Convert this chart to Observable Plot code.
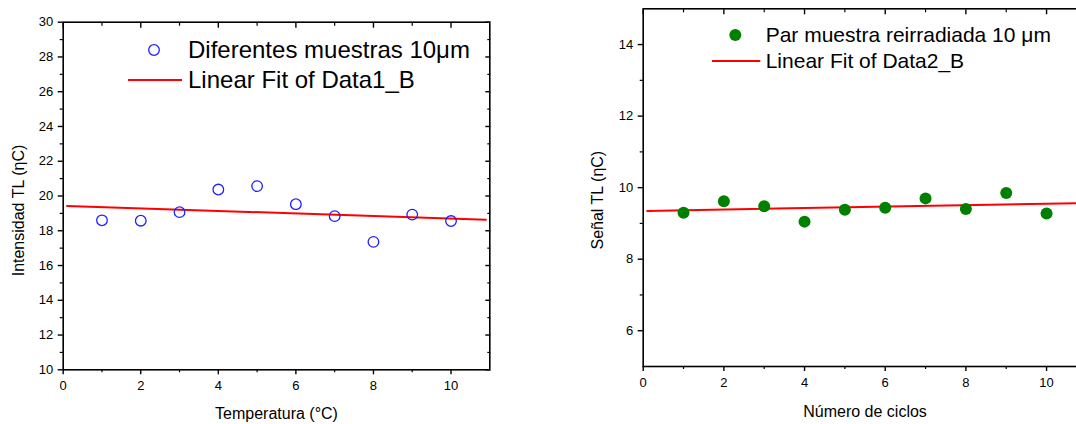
<!DOCTYPE html>
<html>
<head>
<meta charset="utf-8">
<script src="https://cdn.jsdelivr.net/npm/d3@7"></script>
<script src="https://cdn.jsdelivr.net/npm/@observablehq/plot@0.6"></script>
<style>
  html, body { margin: 0; padding: 0; background: #fff; }
  #wrap { position: relative; width: 1076px; height: 424px; overflow: hidden; font-family: "Liberation Sans", Arial, sans-serif; }
  .panel { position: absolute; top: 0; }
  .panel svg { max-width: none !important; display: block; }
  .legend { position: absolute; font-family: "Liberation Sans", Arial, sans-serif; color: #000; white-space: nowrap; }
  .legend .row { position: absolute; left: 0; display: flex; align-items: center; }
  svg text { font-family: "Liberation Sans", Arial, sans-serif; }
</style>
</head>
<body>
<div id="wrap">
  <div class="panel" id="left" style="left:0px; width:500px"></div>
  <div class="panel" id="right" style="left:580px; width:520px"></div>
</div>
<script>
// ---- data ----
const ciclos = [1, 2, 3, 4, 5, 6, 7, 8, 9, 10];
const intensidad = [18.60, 18.58, 19.07, 20.37, 20.57, 19.53, 18.84, 17.36, 18.93, 18.56];
const senal = [9.30, 9.62, 9.48, 9.05, 9.38, 9.44, 9.70, 9.40, 9.85, 9.28];
const fit1X = [0.1, 10.9];
const fit1Y = [19.43, 18.63];
const fit2X = [0.1, 11.0];
const fit2Y = [9.35, 9.57];

const leftXTicks = [0, 2, 4, 6, 8, 10];
const leftXMinor = [1, 3, 5, 7, 9];
const leftYTicks = [10, 12, 14, 16, 18, 20, 22, 24, 26, 28, 30];
const leftYMinor = [11, 13, 15, 17, 19, 21, 23, 25, 27, 29];
const rightXTicks = [0, 2, 4, 6, 8, 10];
const rightXMinor = [1, 3, 5, 7, 9];
const rightYTicks = [6, 8, 10, 12, 14];
const rightYMinor = [7, 9, 11, 13];

const legend1 = ["Diferentes muestras 10μm", "Linear Fit of Data1_B"];
const legend2 = ["Par muestra reirradiada 10 μm", "Linear Fit of Data2_B"];

const pts1 = ciclos.map((x, i) => ({x, y: intensidad[i]}));
const pts2 = ciclos.map((x, i) => ({x, y: senal[i]}));
const line1 = fit1X.map((x, i) => ({x, y: fit1Y[i]}));
const line2 = fit2X.map((x, i) => ({x, y: fit2Y[i]}));

function axes(xT, xM, yT, yM, xLabel, yLabel, xdy, ydx, ydy) {
  return [
    Plot.frame({stroke: "#000", strokeWidth: 1.6}),
    Plot.axisX({anchor: "bottom", ticks: xT, tickSize: 5, tickPadding: 6, fontSize: 13, strokeWidth: 1.4, label: null}),
    Plot.axisX({anchor: "bottom", ticks: xM, tickSize: 3, text: null, label: null, strokeWidth: 1.2}),
    Plot.axisX({anchor: "top", ticks: xT, tickSize: -5, text: null, label: null, strokeWidth: 1.4}),
    Plot.axisX({anchor: "top", ticks: xM, tickSize: -3, text: null, label: null, strokeWidth: 1.2}),
    Plot.axisY({anchor: "left", ticks: yT, tickSize: 5, tickPadding: 5, fontSize: 13, strokeWidth: 1.4, label: null}),
    Plot.axisY({anchor: "left", ticks: yM, tickSize: 3, text: null, label: null, strokeWidth: 1.2}),
    Plot.axisY({anchor: "right", ticks: yT, tickSize: -5, text: null, label: null, strokeWidth: 1.4}),
    Plot.axisY({anchor: "right", ticks: yM, tickSize: -3, text: null, label: null, strokeWidth: 1.2}),
    Plot.text([xLabel], {frameAnchor: "bottom", dy: xdy, fontSize: 16, fill: "#000", lineAnchor: "middle", textAnchor: "middle"}),
    Plot.text([yLabel], {frameAnchor: "left", dx: ydx, dy: ydy, rotate: -90, fontSize: 16, fill: "#000", lineAnchor: "middle", textAnchor: "middle"})
  ];
}

const p1 = Plot.plot({
  width: 500, height: 424,
  marginLeft: 62.7, marginRight: 10.7, marginTop: 21.7, marginBottom: 54.7,
  style: {fontFamily: "Liberation Sans, Arial, sans-serif", color: "#000", background: "transparent"},
  x: {domain: [0, 11]},
  y: {domain: [10, 30]},
  marks: [
    ...axes(leftXTicks, leftXMinor, leftYTicks, leftYMinor, "Temperatura (°C)", "Intensidad TL (ηC)", 43.7, -44.7, 14.5),
    Plot.line(line1, {x: "x", y: "y", stroke: "#ff0000", strokeWidth: 2}),
    Plot.dot(pts1, {x: "x", y: "y", r: 5.3, stroke: "#1f1fff", strokeWidth: 1.3, fill: "none"})
  ]
});
document.getElementById("left").appendChild(p1);

const p2 = Plot.plot({
  width: 520, height: 424,
  marginLeft: 62.7, marginRight: 13.6, marginTop: 8.3, marginBottom: 58,
  style: {fontFamily: "Liberation Sans, Arial, sans-serif", color: "#000", background: "transparent"},
  x: {domain: [0, 11]},
  y: {domain: [5, 15]},
  marks: [
    ...axes(rightXTicks, rightXMinor, rightYTicks, rightYMinor, "Número de ciclos", "Señal TL (ηC)", 45.7, -45.7, 12.5),
    Plot.line(line2, {x: "x", y: "y", stroke: "#ff0000", strokeWidth: 2}),
    Plot.dot(pts2, {x: "x", y: "y", r: 6, fill: "#008000", stroke: "none"})
  ]
});
document.getElementById("right").appendChild(p2);

// ---- legends (HTML overlays) ----
function addLegend(left, top, fontSize, labels, markerSvg, lineX0, lineX1, textX, rowGap) {
  const lg = document.createElement("div");
  lg.className = "legend";
  lg.style.left = left + "px";
  lg.style.top = top + "px";
  lg.style.fontSize = fontSize + "px";
  labels.forEach((lab, i) => {
    const row = document.createElement("div");
    row.className = "row";
    row.style.top = (i * rowGap) + "px";
    row.style.height = "0px";
    const sw = document.createElementNS("http://www.w3.org/2000/svg", "svg");
    sw.setAttribute("width", textX);
    sw.setAttribute("height", 20);
    sw.style.overflow = "visible";
    sw.innerHTML = i === 0 ? markerSvg : `<line x1="${lineX0}" x2="${lineX1}" y1="10" y2="10" stroke="#ff0000" stroke-width="2"/>`;
    row.appendChild(sw);
    const t = document.createElement("span");
    t.textContent = lab;
    row.appendChild(t);
    lg.appendChild(row);
  });
  document.getElementById("wrap").appendChild(lg);
}
addLegend(128, 50, 24, legend1,
  `<circle cx="26" cy="10" r="5.3" fill="none" stroke="#1f1fff" stroke-width="1.3"/>`, 0, 54, 60, 30);
addLegend(711.7, 34.7, 21, legend2,
  `<circle cx="23.3" cy="10" r="6" fill="#008000"/>`, 0, 48.3, 54, 26.3);
</script>
</body>
</html>
